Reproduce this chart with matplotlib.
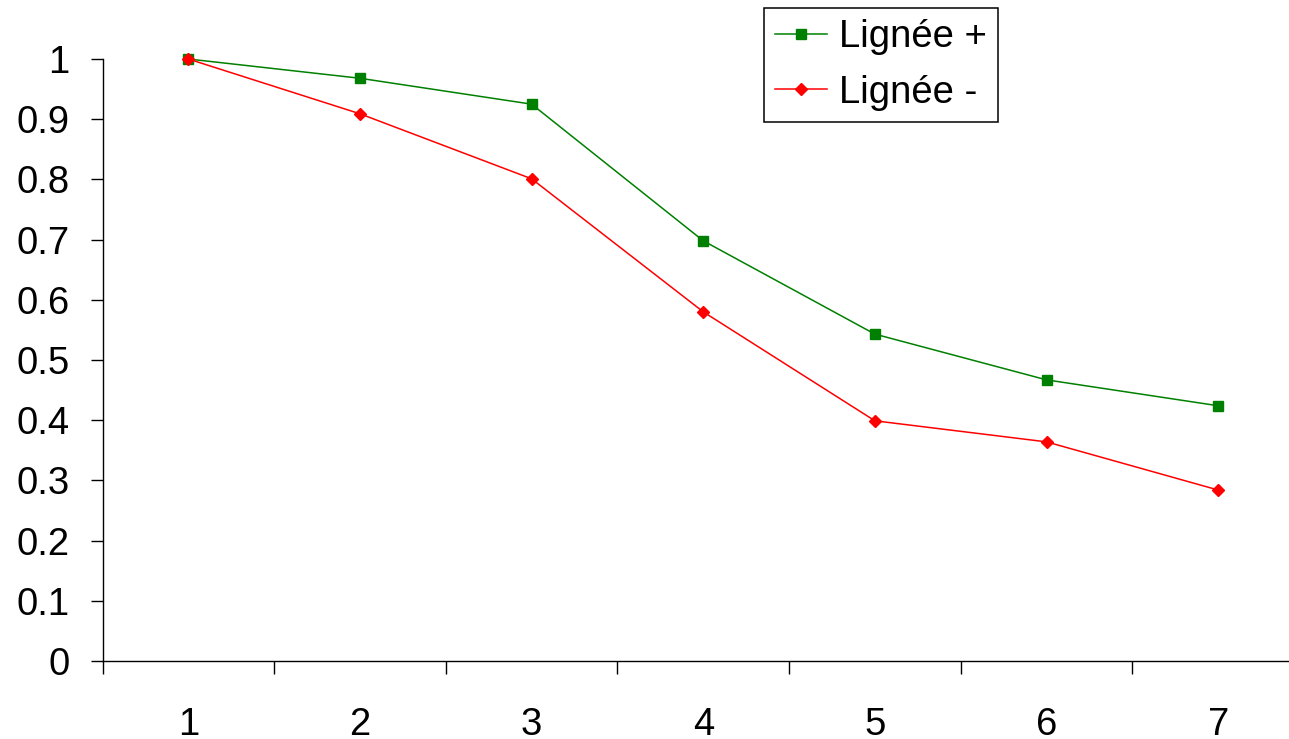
import matplotlib
matplotlib.use("Agg")
import matplotlib.pyplot as plt
from matplotlib.ticker import FixedLocator, NullFormatter

categories = [1, 2, 3, 4, 5, 6, 7]
lignee_plus = [1.0, 0.968, 0.925, 0.698, 0.543, 0.467, 0.424]
lignee_minus = [1.0, 0.909, 0.801, 0.580, 0.399, 0.364, 0.284]
y_ticks = [0, 0.1, 0.2, 0.3, 0.4, 0.5, 0.6, 0.7, 0.8, 0.9, 1]
y_labels = ["0", "0.1", "0.2", "0.3", "0.4", "0.5", "0.6", "0.7", "0.8", "0.9", "1"]

plt.rcParams['font.family'] = ['Liberation Sans', 'DejaVu Sans']
FS = 27.5

W, H = 1289, 739
fig = plt.figure(figsize=(W / 100, H / 100), dpi=100)
left = 102.5 / W
bottom = (H - 661) / H
width = (1304 - 102.5) / W
height = (661 - 59) / H
ax = fig.add_axes([left, bottom, width, height])

ax.plot(categories, lignee_plus, color='#008000', marker='s', markersize=7.5,
        linewidth=1.1, label='Lignée +', clip_on=False)
ax.plot(categories, lignee_minus, color='#FF0000', marker='D', markersize=6.5,
        linewidth=1.1, label='Lignée -', clip_on=False)

ax.set_xlim(0.5, 7.5)
ax.set_ylim(0, 1)
ax.spines['top'].set_visible(False)
ax.spines['right'].set_visible(False)
for s in ['left', 'bottom']:
    ax.spines[s].set_linewidth(1.0)

ax.set_yticks(y_ticks)
ax.set_yticklabels(y_labels, fontsize=FS)
ax.tick_params(axis='y', direction='out', length=8.6, width=1.0, pad=15)

boundaries = [c - 0.5 for c in categories] + [categories[-1] + 0.5]
ax.xaxis.set_major_locator(FixedLocator(boundaries))
ax.xaxis.set_major_formatter(NullFormatter())
ax.set_xticks(categories, minor=True)
ax.set_xticklabels([str(c) for c in categories], minor=True, fontsize=FS)
ax.tick_params(axis='x', which='major', direction='out', length=9.4, width=1.0)
ax.tick_params(axis='x', which='minor', length=0, pad=33)

leg = ax.legend(loc='upper left', bbox_to_anchor=(764 / W, 1 - 8 / H),
                bbox_transform=fig.transFigure, fontsize=FS, frameon=True,
                fancybox=False, edgecolor='black', framealpha=1,
                handlelength=1.36, handletextpad=0.3, labelspacing=0.5,
                borderpad=0.3, borderaxespad=0)
leg.get_frame().set_linewidth(1.1)

fig.savefig('out.png', dpi=100)
